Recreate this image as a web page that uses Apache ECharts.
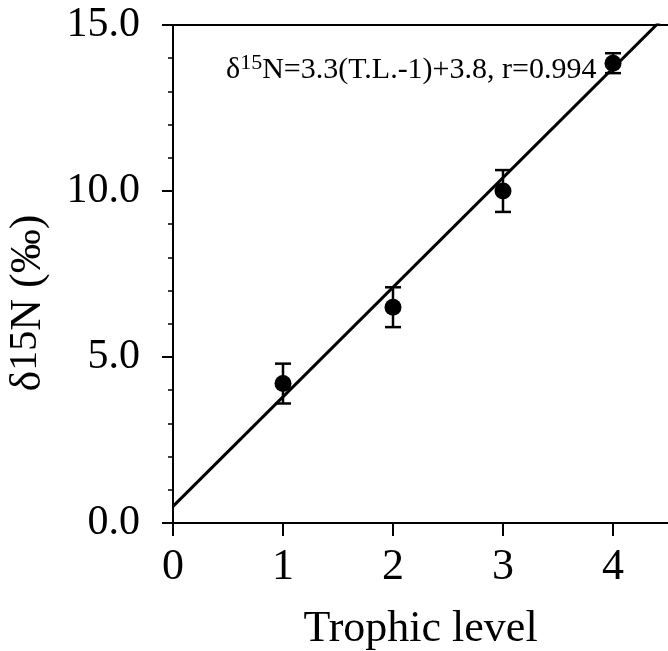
<!DOCTYPE html>
<html>
<head>
<meta charset="utf-8">
<script src="https://cdn.jsdelivr.net/npm/echarts@6/dist/echarts.min.js"></script>
<style>
  html, body { margin: 0; padding: 0; background: #fff; }
  #chart { width: 668px; height: 651px; }
</style>
</head>
<body>
<div id="chart"></div>
<script>
// trophic level of each group and its mean d15N with the +/- error
const trophicLevels = [1, 2, 3, 4]
const d15nMeans = [4.2, 6.5, 10.0, 13.85]
const d15nErrors = [0.6, 0.6, 0.63, 0.3]

// regression d15N = 3.3(T.L.-1) + 3.8, end points at the axis limits
const fitLine = [[0, 0.5], [4.5, 15.35]]

const xTicks = [0, 1, 2, 3, 4]
const yTicks = [0, 5, 10, 15]

const font = 'Liberation Serif, Times New Roman, serif'

const chart = echarts.init(document.getElementById('chart'))

const points = trophicLevels.map((x, i) => [x, d15nMeans[i]])
const bars = trophicLevels.map((x, i) => [x, d15nMeans[i] - d15nErrors[i], d15nMeans[i] + d15nErrors[i]])

chart.setOption({
  animation: false,
  backgroundColor: '#fff',
  grid: {
    left: 173,
    right: 0,
    top: 25,
    bottom: 128,
    outerBoundsMode: 'none'
  },
  xAxis: [
    {
      type: 'value',
      min: 0,
      max: 4.5,
      interval: 1,
      splitLine: { show: false },
      axisLine: { onZero: false, lineStyle: { color: '#000', width: 2 } },
      axisTick: { customValues: xTicks, length: 13, lineStyle: { color: '#000', width: 2 } },
      axisLabel: {
        customValues: xTicks,
        margin: 22,
        color: '#000',
        fontFamily: font,
        fontSize: 44
      },
      name: 'Trophic level',
      nameLocation: 'middle',
      nameGap: 84,
      nameTextStyle: { color: '#000', fontFamily: font, fontSize: 44 }
    },
    {
      // top border of the frame
      type: 'value',
      position: 'top',
      min: 0,
      max: 4.5,
      splitLine: { show: false },
      axisLine: { onZero: false, lineStyle: { color: '#000', width: 2 } },
      axisTick: { show: false },
      axisLabel: { show: false }
    }
  ],
  yAxis: {
    type: 'value',
    min: 0,
    max: 15,
    interval: 5,
    splitLine: { show: false },
    axisLine: { onZero: false, lineStyle: { color: '#000', width: 2 } },
    axisTick: { length: 11, lineStyle: { color: '#000', width: 2 } },
    minorTick: { show: true, splitNumber: 5, length: 5, lineStyle: { color: '#000', width: 1.5 } },
    axisLabel: {
      customValues: yTicks,
      margin: 33,
      color: '#000',
      fontFamily: font,
      fontSize: 42,
      formatter: v => v.toFixed(1)
    }
  },
  graphic: [
    {
      type: 'text',
      x: 28,
      y: 303,
      rotation: Math.PI / 2,
      style: {
        text: '{a|δ}{s|15}{a|N (‰)}',
        align: 'center',
        verticalAlign: 'middle',
        fill: '#000',
        rich: {
          a: { fontFamily: font, fontSize: 44, fill: '#000' },
          s: { fontFamily: font, fontSize: 40, fill: '#000', padding: [0, 0, 6, 0] }
        }
      }
    },
    {
      type: 'text',
      x: 226,
      y: 70,
      style: {
        text: '{a|δ}{s|15}{a|N=3.3(T.L.-1)+3.8, r=0.994}',
        align: 'left',
        verticalAlign: 'middle',
        fill: '#000',
        rich: {
          a: { fontFamily: font, fontSize: 30, fill: '#000' },
          s: { fontFamily: font, fontSize: 22, fill: '#000', padding: [0, 0, 13, 0] }
        }
      }
    }
  ],
  series: [
    {
      type: 'line',
      data: fitLine,
      symbol: 'none',
      clip: true,
      lineStyle: { color: '#000', width: 3 },
      z: 2
    },
    {
      type: 'custom',
      data: bars,
      renderItem(params, api) {
        const x = api.value(0)
        const lo = api.coord([x, api.value(1)])
        const hi = api.coord([x, api.value(2)])
        const cap = 8
        const style = { stroke: '#000', lineWidth: 2.5 }
        return {
          type: 'group',
          children: [
            { type: 'line', shape: { x1: lo[0], y1: lo[1], x2: hi[0], y2: hi[1] }, style },
            { type: 'line', shape: { x1: lo[0] - cap, y1: lo[1], x2: lo[0] + cap, y2: lo[1] }, style },
            { type: 'line', shape: { x1: hi[0] - cap, y1: hi[1], x2: hi[0] + cap, y2: hi[1] }, style }
          ]
        }
      },
      z: 3
    },
    {
      type: 'scatter',
      data: points,
      symbol: 'circle',
      symbolSize: 17,
      itemStyle: { color: '#000', opacity: 1 },
      z: 4
    }
  ]
})
</script>
</body>
</html>
